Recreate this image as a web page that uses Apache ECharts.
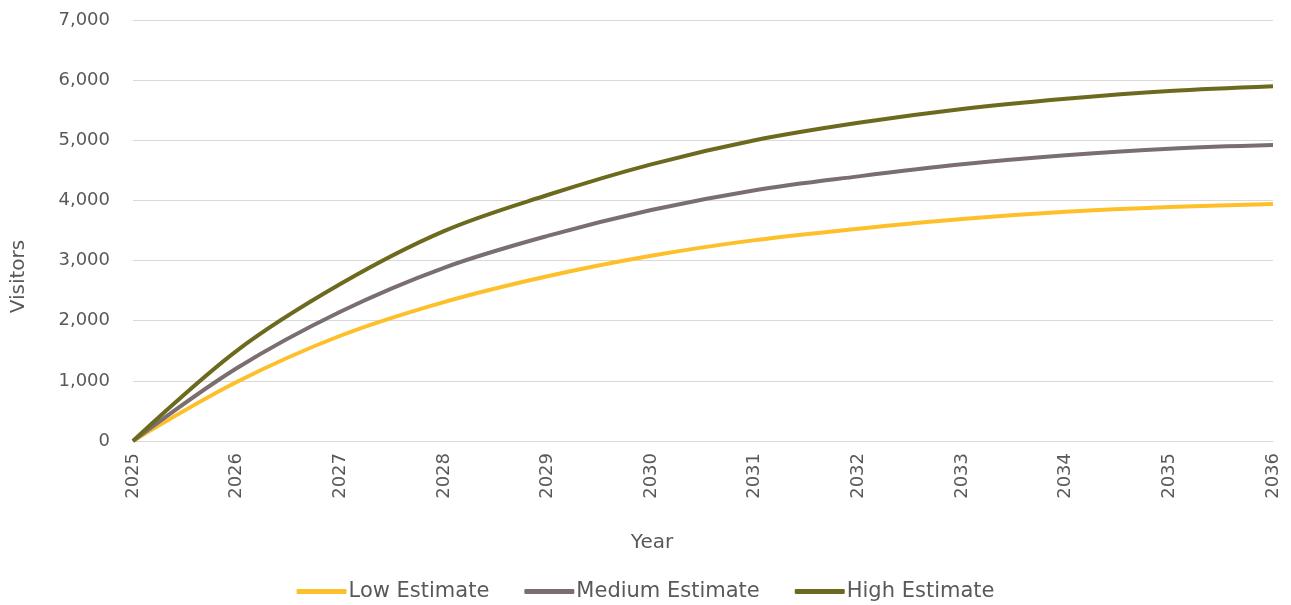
<!DOCTYPE html>
<html>
<head>
<meta charset="utf-8">
<script src="https://cdn.jsdelivr.net/npm/echarts@6/dist/echarts.min.js"></script>
<style>
html,body{margin:0;padding:0;background:#fff;}
#chart{width:1291px;height:605px;}
</style>
</head>
<body>
<div id="chart"></div>
<script>
// Projected yearly visitor numbers under three growth scenarios
const years = ['2025','2026','2027','2028','2029','2030','2031','2032','2033','2034','2035','2036'];
const lowEstimate    = [0, 980, 1750, 2310, 2740, 3080, 3340, 3530, 3690, 3810, 3890, 3940];
const mediumEstimate = [0, 1210, 2150, 2880, 3410, 3840, 4170, 4400, 4600, 4750, 4860, 4920];
const highEstimate   = [0, 1500, 2610, 3490, 4090, 4600, 5000, 5290, 5520, 5690, 5820, 5900];

const FONT = '"DejaVu Sans", "Noto Sans", sans-serif';
const TEXT = '#595959';

const chart = echarts.init(document.getElementById('chart'));

function line(name, data, color) {
  return {
    name, type: 'line', data, smooth: 0.35,
    showSymbol: false, symbol: 'none',
    lineStyle: { color, width: 4 },
    itemStyle: { color }
  };
}

chart.setOption({
  animation: false,
  textStyle: { fontFamily: FONT },
  grid: { left: 133, right: 18, top: 20, bottom: 164, outerBoundsMode: 'none' },
  legend: {
    top: 576, left: 'center',
    itemWidth: 50, itemHeight: 5, itemGap: 35,
    icon: 'roundRect',
    textStyle: { color: TEXT, fontSize: 21, fontFamily: FONT, padding: [0, 0, 0, -3] },
    data: ['Low Estimate', 'Medium Estimate', 'High Estimate']
  },
  xAxis: {
    type: 'category', data: years, boundaryGap: false,
    name: 'Year', nameLocation: 'middle', nameGap: 92,
    nameTextStyle: { color: TEXT, fontSize: 20, fontFamily: FONT, padding: [0, 102, 0, 0] },
    axisLine: { lineStyle: { color: '#d9d9d9', width: 1 } },
    axisTick: { show: false },
    axisLabel: { rotate: 90, color: TEXT, fontSize: 18, margin: 12, fontFamily: FONT }
  },
  yAxis: {
    type: 'value', min: 0, max: 7000, interval: 1000,
    name: 'Visitors', nameLocation: 'middle', nameGap: 104,
    nameTextStyle: { color: TEXT, fontSize: 20, fontFamily: FONT, padding: [0, 92, 0, 0] },
    axisLine: { show: false }, axisTick: { show: false },
    splitLine: { lineStyle: { color: '#d9d9d9', width: 1 } },
    axisLabel: {
      color: TEXT, fontSize: 18, margin: 23, fontFamily: FONT,
      formatter: v => v.toLocaleString('en-US')
    }
  },
  series: [
    line('Low Estimate', lowEstimate, '#FDC02B'),
    line('Medium Estimate', mediumEstimate, '#7A6E70'),
    line('High Estimate', highEstimate, '#6C6A1F')
  ]
});
</script>
</body>
</html>
